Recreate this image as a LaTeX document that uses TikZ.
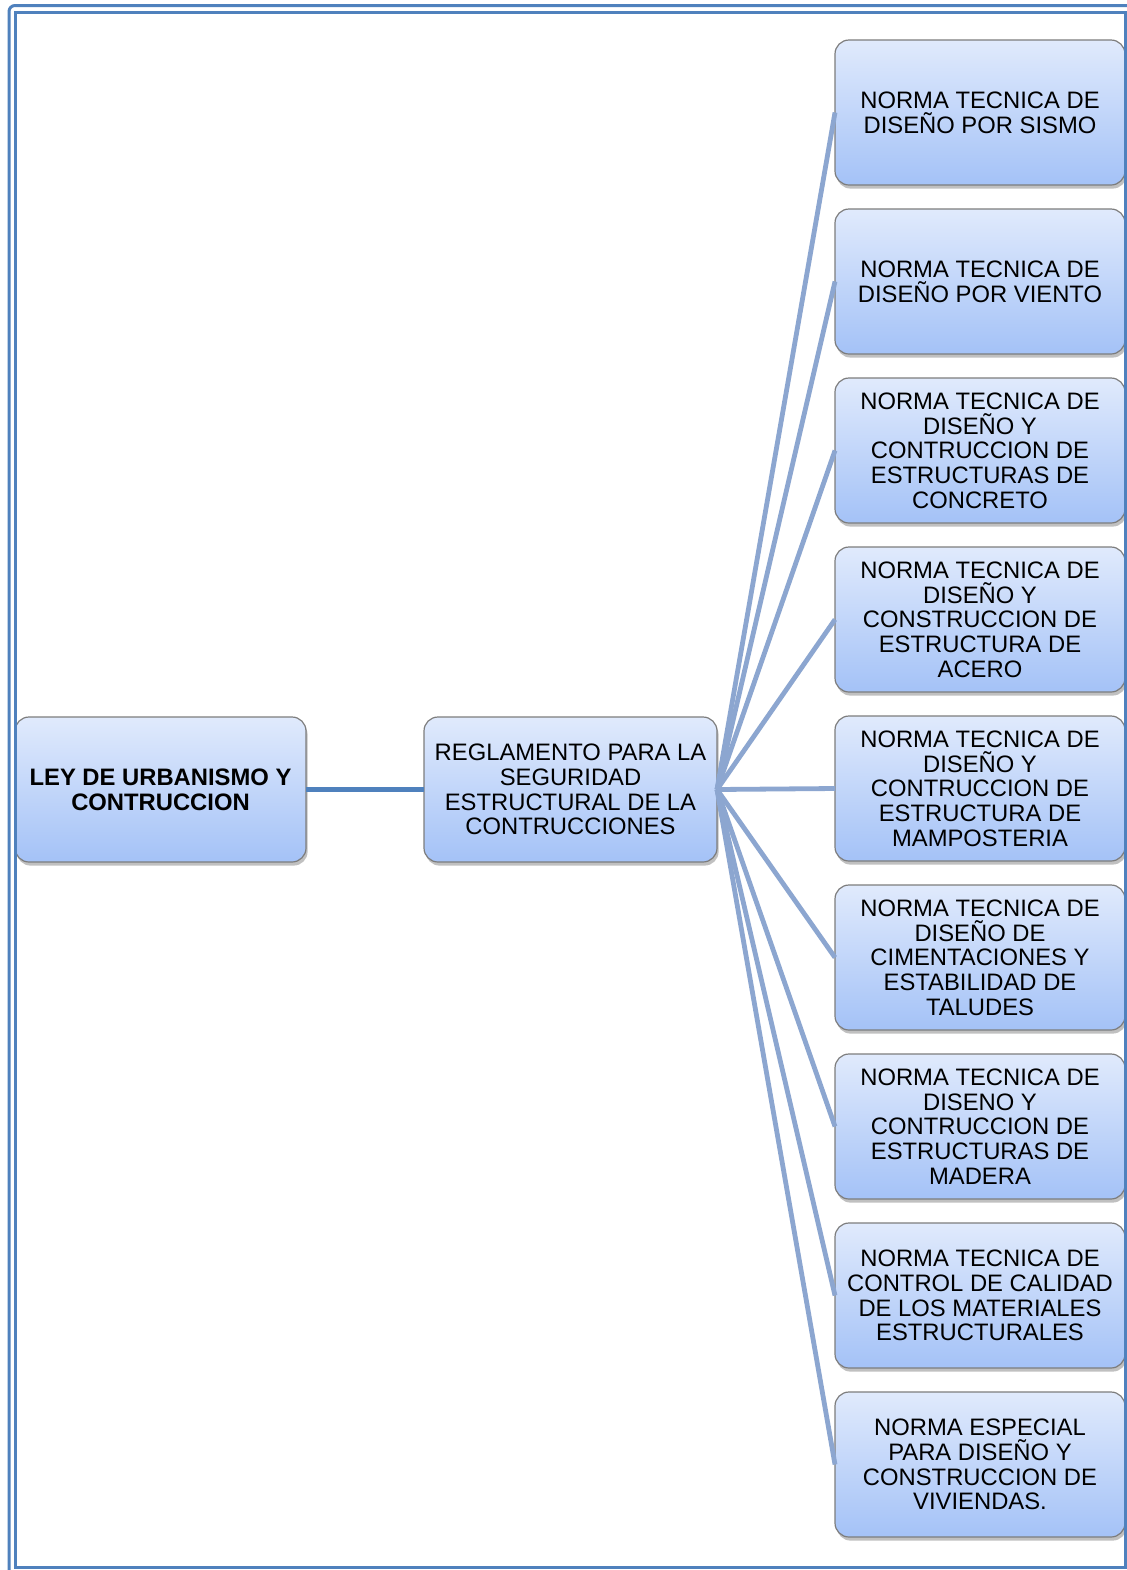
\documentclass[tikz,border=0pt]{standalone}
\usepackage{fontspec}
\setmainfont{Liberation Sans}
\usetikzlibrary{shadows}
\definecolor{frameblue}{RGB}{79,129,189}
\definecolor{linkblue}{RGB}{140,166,208}
\definecolor{boxtop}{RGB}{224,234,252}
\definecolor{boxbot}{RGB}{164,194,247}
\definecolor{boxedge}{RGB}{125,125,125}
\begin{document}
\begin{tikzpicture}[x=0.5pt,y=-0.5pt,
  box/.style={draw=boxedge, line width=0.6pt, rounded corners=7pt,
    top color=boxtop, bottom color=boxbot,
    minimum height=72.5pt, inner sep=0pt, outer sep=0pt, align=center,
    font=\fontsize{11.9}{12.35}\selectfont,
    drop shadow={shadow xshift=0.8pt, shadow yshift=-1.8pt, opacity=0.35, fill=black!70}},
  rbox/.style={box, minimum width=145pt},
  link/.style={draw=linkblue, line width=2.4pt},
  mainlink/.style={draw=frameblue, line width=2.5pt},
]
\useasboundingbox (0,0) rectangle (1127,1570);
\fill[white] (0,0) rectangle (1127,1570);

\node[box, minimum width=145.5pt, font=\fontsize{11.9}{12.35}\selectfont\bfseries] (ley) at (160.5,789.5) {LEY DE URBANISMO Y\\CONTRUCCION};
\node[box, minimum width=146.5pt] (reg) at (570.5,789.5) {REGLAMENTO PARA LA\\SEGURIDAD\\ESTRUCTURAL DE LA\\CONTRUCCIONES};

\node[rbox] (n1) at (980,112.5) {NORMA TECNICA DE\\DISEÑO POR SISMO};
\node[rbox] (n2) at (980,281.5) {NORMA TECNICA DE\\DISEÑO POR VIENTO};
\node[rbox] (n3) at (980,450.5) {NORMA TECNICA DE\\DISEÑO Y\\CONTRUCCION DE\\ESTRUCTURAS DE\\CONCRETO};
\node[rbox] (n4) at (980,619.5) {NORMA TECNICA DE\\DISEÑO Y\\CONSTRUCCION DE\\ESTRUCTURA DE\\ACERO};
\node[rbox] (n5) at (980,788.5) {NORMA TECNICA DE\\DISEÑO Y\\CONTRUCCION DE\\ESTRUCTURA DE\\MAMPOSTERIA};
\node[rbox] (n6) at (980,957.5) {NORMA TECNICA DE\\DISEÑO DE\\CIMENTACIONES Y\\ESTABILIDAD DE\\TALUDES};
\node[rbox] (n7) at (980,1126.5) {NORMA TECNICA DE\\DISENO Y\\CONTRUCCION DE\\ESTRUCTURAS DE\\MADERA};
\node[rbox] (n8) at (980,1295.5) {NORMA TECNICA DE\\CONTROL DE CALIDAD\\DE LOS MATERIALES\\ESTRUCTURALES};
\node[rbox] (n9) at (980,1464.5) {NORMA ESPECIAL\\PARA DISEÑO Y\\CONSTRUCCION DE\\VIVIENDAS.};

\draw[mainlink] (ley.east) -- (reg.west);
\foreach \n in {n1,n2,n3,n4,n5,n6,n7,n8,n9}
  \draw[link] (reg.east) -- (\n.west);

\begin{scope}
\clip (0,0) rectangle (1127,1570);
\draw[frameblue, line width=1.5pt, rounded corners=3pt] (9,5.5) rectangle (1145,1590);
\draw[frameblue, line width=1.5pt] (15.5,12.5) rectangle (1125,1567);
\end{scope}
\end{tikzpicture}
\end{document}
